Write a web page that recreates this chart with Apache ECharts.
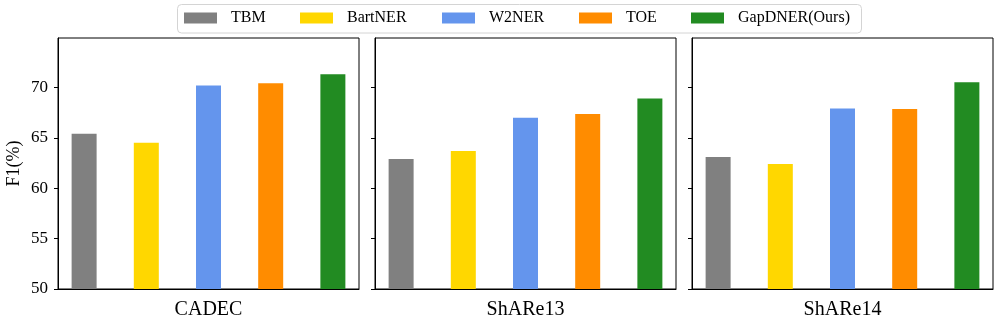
<!DOCTYPE html>
<html>
<head>
<meta charset="utf-8">
<script src="https://cdn.jsdelivr.net/npm/echarts@6/dist/echarts.min.js"></script>
<style>
html,body{margin:0;padding:0;background:#fff;}
#chart{width:996px;height:319px;}
</style>
</head>
<body>
<div id="chart"></div>
<script>
// ---- data ----
var datasets = ['CADEC', 'ShARe13', 'ShARe14'];
var methods = ['TBM', 'BartNER', 'W2NER', 'TOE', 'GapDNER(Ours)'];
var TBM = [65.4, 62.9, 63.1];
var BartNER = [64.5, 63.7, 62.4];
var W2NER = [70.2, 67.0, 67.9];
var TOE = [70.4, 67.35, 67.85];
var GapDNER = [71.3, 68.9, 70.5];
var yTicks = [50, 55, 60, 65, 70];

var values = [TBM, BartNER, W2NER, TOE, GapDNER];
var colors = ['#808080', '#FFD700', '#6495ED', '#FF8C00', '#228B22'];
var font = 'Liberation Serif';

var gridLefts = [58, 375, 692];
var grids = [], xAxes = [], yAxes = [], series = [];
datasets.forEach(function (ds, g) {
  grids.push({left: gridLefts[g], top: 38, width: 301, height: 251, show: true,
    outerBoundsMode: 'none', containLabel: false,
    borderColor: '#000', borderWidth: 1, backgroundColor: 'transparent'});
  xAxes.push({type: 'value', gridIndex: g, min: -0.42, max: 4.42,
    axisLine: {show: true, onZero: false, lineStyle: {color: '#000', width: 1}},
    axisTick: {show: false}, axisLabel: {show: false}, splitLine: {show: false},
    name: ds, nameLocation: 'middle', nameGap: 11,
    nameTextStyle: {fontFamily: font, fontSize: 20, color: '#000', verticalAlign: 'top'}});
  yAxes.push({type: 'value', gridIndex: g, min: 50, max: 74.9,
    axisLine: {show: true, onZero: false, lineStyle: {color: '#000', width: 1}},
    axisTick: {show: true, length: 4, customValues: yTicks, lineStyle: {color: '#000'}},
    axisLabel: {show: g === 0, customValues: yTicks, margin: 10, fontFamily: font, fontSize: 17, color: '#000'},
    splitLine: {show: false},
    name: g === 0 ? 'F1(%)' : '', nameLocation: 'middle', nameGap: 35,
    nameTextStyle: {fontFamily: font, fontSize: 18, color: '#000'}});
  methods.forEach(function (m, i) {
    series.push({type: 'bar', name: m, xAxisIndex: g, yAxisIndex: g,
      barWidth: 25, barGap: '-100%',
      itemStyle: {color: colors[i]},
      data: [[i, values[i][g]]]});
  });
});

var legendLefts = [184, 300, 442, 579, 691];
var legends = methods.map(function (m, i) {
  return {data: [m], left: legendLefts[i], top: 10, padding: 0,
    icon: 'rect', itemWidth: 33, itemHeight: 11,
    textStyle: {fontFamily: font, fontSize: 16, color: '#000', padding: [0, 0, 0, 9]},
    selectedMode: false};
});

var chart = echarts.init(document.getElementById('chart'), null, {renderer: 'canvas'});
chart.setOption({
  animation: false,
  color: colors,
  graphic: [{type: 'rect', z: 0, shape: {x: 177.5, y: 4.5, width: 684, height: 28.5, r: 4},
    style: {fill: '#fff', stroke: '#d4d4d4', lineWidth: 1}}],
  legend: legends,
  grid: grids,
  xAxis: xAxes,
  yAxis: yAxes,
  series: series
});
</script>
</body>
</html>
